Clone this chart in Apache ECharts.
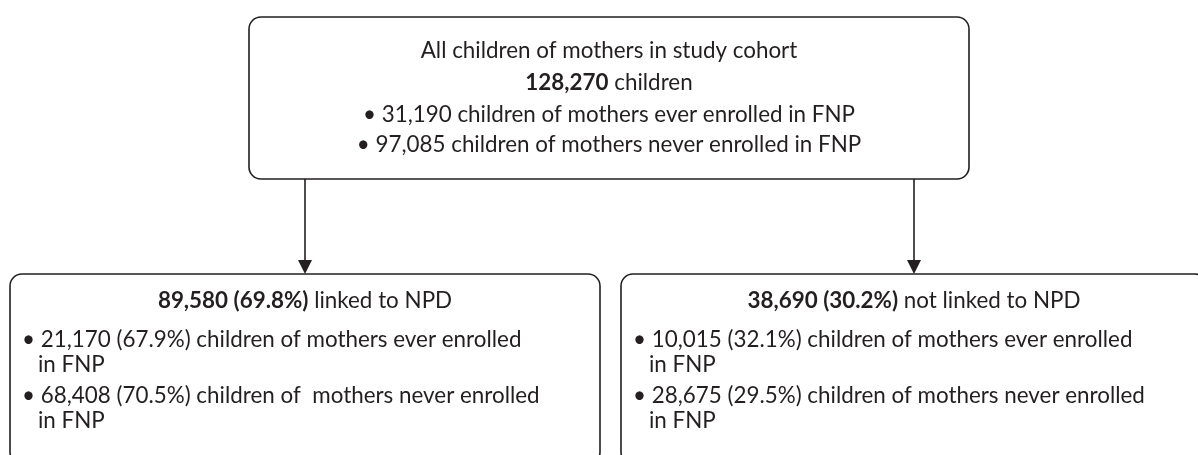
<!DOCTYPE html>
<html>
<head>
<meta charset="utf-8">
<script src="https://cdn.jsdelivr.net/npm/echarts@6/dist/echarts.min.js"></script>
<style>
  html, body { margin: 0; padding: 0; background: #fff; }
  #chart { width: 1198px; height: 455px; }
</style>
</head>
<body>
<div id="chart"></div>
<script>
// ---- Data ----
const topTitle = 'All children of mothers in study cohort';
const totalChildren = 128270;
const topBullets = [
  [31190, 'children of mothers ever enrolled in FNP'],
  [97085, 'children of mothers never enrolled in FNP']
];
const groupLabels = ['linked to NPD', 'not linked to NPD'];
const groupCounts = [89580, 38690];
const groupPcts = [69.8, 30.2];
const everCounts = [21170, 10015];
const everPcts = [67.9, 32.1];
const neverCounts = [68408, 28675];
const neverPcts = [70.5, 29.5];
const everText = ['children of mothers ever enrolled', 'children of mothers ever enrolled'];
const neverText = ['children of  mothers never enrolled', 'children of mothers never enrolled'];
const wrapText = 'in FNP';

// ---- Layout / style ----
const FONT = 'Lato, "Noto Sans", sans-serif';
const FS = 22.4;
const INK = '#231f20';
const LW = 1.6;
const fmt = n => n.toLocaleString('en-US');

const chart = echarts.init(document.getElementById('chart'), null, { renderer: 'canvas' });

const els = [];
function box(x, y, w, h) {
  els.push({ type: 'rect', shape: { x, y, width: w, height: h, r: 12 },
    style: { fill: '#fff', stroke: INK, lineWidth: LW }, z: 1 });
}
function txt(x, y, text, align, rich) {
  els.push({ type: 'text', x, y, z: 3,
    style: { text, fill: INK, fontSize: FS, fontFamily: FONT, align: align || 'center',
      verticalAlign: 'middle',
      rich: rich ? { b: { fontWeight: 'bold', fontSize: FS, fontFamily: FONT, fill: INK } } : undefined } });
}
function arrow(x, y1, y2) {
  els.push({ type: 'line', shape: { x1: x, y1, x2: x, y2: y2 - 10 }, style: { stroke: INK, lineWidth: LW }, z: 2 });
  els.push({ type: 'polygon', shape: { points: [[x - 7, y2 - 14], [x + 7, y2 - 14], [x, y2]] },
    style: { fill: INK }, z: 2 });
}

// top box
const topBox = { x: 249, y: 17, w: 720, h: 162 };
box(topBox.x, topBox.y, topBox.w, topBox.h);
const cx = topBox.x + topBox.w / 2;
txt(cx, 51, topTitle);
txt(cx, 83, '{b|' + fmt(totalChildren) + '} children', 'center', true);
topBullets.forEach((b, i) => txt(cx, 115 + i * 30, '\u2022 ' + fmt(b[0]) + ' ' + b[1]));

// bottom boxes
const bottoms = [{ x: 10, w: 590 }, { x: 621, w: 586 }];
const by = 274;
bottoms.forEach((b, i) => {
  box(b.x, by, b.w, 190);
  const bcx = b.x + b.w / 2;
  arrow(bcx, topBox.y + topBox.h, by);
  txt(bcx, 301, '{b|' + fmt(groupCounts[i]) + ' (' + groupPcts[i].toFixed(1) + '%)} ' + groupLabels[i], 'center', true);
  const lx = b.x + 12;
  txt(lx, 340, '\u2022 ' + fmt(everCounts[i]) + ' (' + everPcts[i].toFixed(1) + '%) ' + everText[i], 'left');
  txt(lx + 16, 365, wrapText, 'left');
  txt(lx, 396, '\u2022 ' + fmt(neverCounts[i]) + ' (' + neverPcts[i].toFixed(1) + '%) ' + neverText[i], 'left');
  txt(lx + 16, 421, wrapText, 'left');
});

chart.setOption({ animation: false, graphic: { elements: els } });
</script>
</body>
</html>
